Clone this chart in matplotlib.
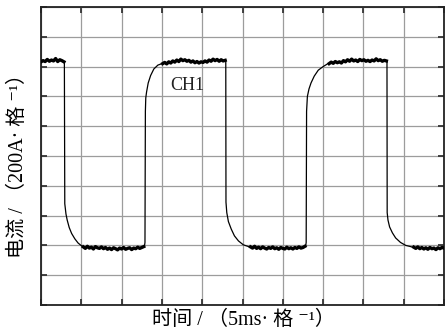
import numpy as np
import matplotlib
matplotlib.use("Agg")
import matplotlib.pyplot as plt

# Oscilloscope trace, in screen divisions (x: 5 ms/div, y: 200 A/div)
# Plateau segments: (t_start, t_end, sampled values)
high_1 = (0.00, 0.57, [8.16, 8.20, 8.17, 8.24, 8.18, 8.22, 8.19, 8.27, 8.17, 8.23, 8.20, 8.16])
low_1 = (1.05, 2.55, [1.95, 1.90, 1.97, 1.91, 1.94, 1.88, 1.96, 1.92, 1.90, 1.95, 1.89, 1.93,
                      1.87, 1.91, 1.86, 1.92, 1.89, 1.85, 1.91, 1.88, 1.93, 1.87, 1.90, 1.92,
                      1.86, 1.91, 1.89, 1.94, 1.90, 1.93, 1.96])
high_2 = (3.02, 4.57, [8.10, 8.14, 8.09, 8.16, 8.12, 8.19, 8.15, 8.22, 8.17, 8.25, 8.20, 8.23,
                       8.18, 8.21, 8.15, 8.19, 8.13, 8.17, 8.12, 8.16, 8.14, 8.19, 8.15, 8.22,
                       8.18, 8.25, 8.20, 8.24, 8.18, 8.23, 8.19, 8.21])
low_2 = (5.20, 6.55, [1.95, 1.91, 1.97, 1.90, 1.94, 1.89, 1.95, 1.91, 1.88, 1.93, 1.90, 1.95,
                      1.89, 1.92, 1.87, 1.93, 1.90, 1.88, 1.94, 1.89, 1.92, 1.88, 1.93, 1.90,
                      1.95, 1.91, 1.93, 1.97])
high_3 = (7.15, 8.57, [8.10, 8.15, 8.11, 8.17, 8.13, 8.16, 8.12, 8.20, 8.16, 8.23, 8.18, 8.25,
                       8.19, 8.22, 8.17, 8.24, 8.20, 8.23, 8.18, 8.21, 8.17, 8.22, 8.19, 8.26,
                       8.20, 8.23, 8.18, 8.21, 8.19])
low_3 = (9.25, 10.0, [1.94, 1.90, 1.95, 1.89, 1.93, 1.88, 1.92, 1.87, 1.93, 1.89, 1.91, 1.86,
                      1.92, 1.89, 1.93, 1.91])

# Switching edges: (times, values)
fall_1 = ([0.58, 0.59, 0.62, 0.65, 0.70, 0.76, 0.84, 0.92, 1.02],
          [8.15, 3.40, 3.05, 2.85, 2.60, 2.40, 2.22, 2.08, 1.97])
rise_1 = ([2.57, 2.58, 2.59, 2.60, 2.62, 2.66, 2.72, 2.80, 2.90, 3.00],
          [2.00, 2.10, 6.50, 6.95, 7.15, 7.45, 7.70, 7.92, 8.05, 8.10])
fall_2 = ([4.585, 4.59, 4.61, 4.65, 4.72, 4.80, 4.90, 5.02, 5.15],
          [8.20, 3.45, 3.10, 2.80, 2.55, 2.32, 2.15, 2.02, 1.96])
rise_2 = ([6.57, 6.58, 6.59, 6.61, 6.65, 6.70, 6.78, 6.88, 7.00, 7.12],
          [2.00, 2.10, 6.50, 7.00, 7.25, 7.45, 7.68, 7.88, 8.00, 8.10])
fall_3 = ([8.585, 8.59, 8.61, 8.65, 8.72, 8.80, 8.92, 9.05, 9.20],
          [8.20, 3.10, 2.85, 2.62, 2.42, 2.25, 2.10, 2.00, 1.95])

x_label = "时间 / （5ms· 格 ⁻¹）"
y_label = "电流 / （200A· 格 ⁻¹）"
channel = "CH1"

fonts = ["Liberation Serif", "Noto Sans CJK SC", "DejaVu Serif"]


def plateau(seg):
    t0, t1, vals = seg
    return np.linspace(t0, t1, len(vals)), np.asarray(vals)


order = [high_1, fall_1, low_1, rise_1, high_2, fall_2, low_2, rise_2, high_3, fall_3, low_3]
ts, vs = [], []
for seg in order:
    if len(seg) == 3:
        t, v = plateau(seg)
    else:
        t, v = np.asarray(seg[0]), np.asarray(seg[1])
    ts.append(t)
    vs.append(v)
t_all = np.concatenate(ts)
v_all = np.concatenate(vs)

fig = plt.figure(figsize=(4.45, 3.36), dpi=100)
ax = fig.add_axes([41 / 445, 1 - 305 / 336, 403 / 445, 298 / 336])

ax.set_xlim(0, 10)
ax.set_ylim(0, 10)
ax.set_xticks(np.arange(0, 11))
ax.set_yticks(np.arange(0, 11))
ax.grid(True, color="#9c9c9c", linewidth=0.9)
ax.set_axisbelow(True)
ax.tick_params(direction="in", length=4, width=1.3, color="#333333",
               top=True, right=True, labelbottom=False, labelleft=False)
for s in ax.spines.values():
    s.set_linewidth(1.3)
    s.set_color("#222222")

ax.plot(t_all, v_all, color="black", linewidth=0.9, zorder=3)
for seg in [high_1, low_1, high_2, low_2, high_3, low_3]:
    t, v = plateau(seg)
    ax.plot(t, v, color="black", linewidth=2.4, zorder=3)

ax.text(3.2, 7.38, channel, fontsize=13, family=fonts, color="#222222",
        ha="left", va="center")

fig.text(243 / 445, 1 - 320 / 336, x_label, fontsize=14.5, family=fonts,
         ha="center", va="center")
fig.text(18 / 445, 1 - 161 / 336, y_label, fontsize=14.5, family=fonts,
         ha="center", va="center", rotation=90)

fig.savefig("out.png", dpi=100)
